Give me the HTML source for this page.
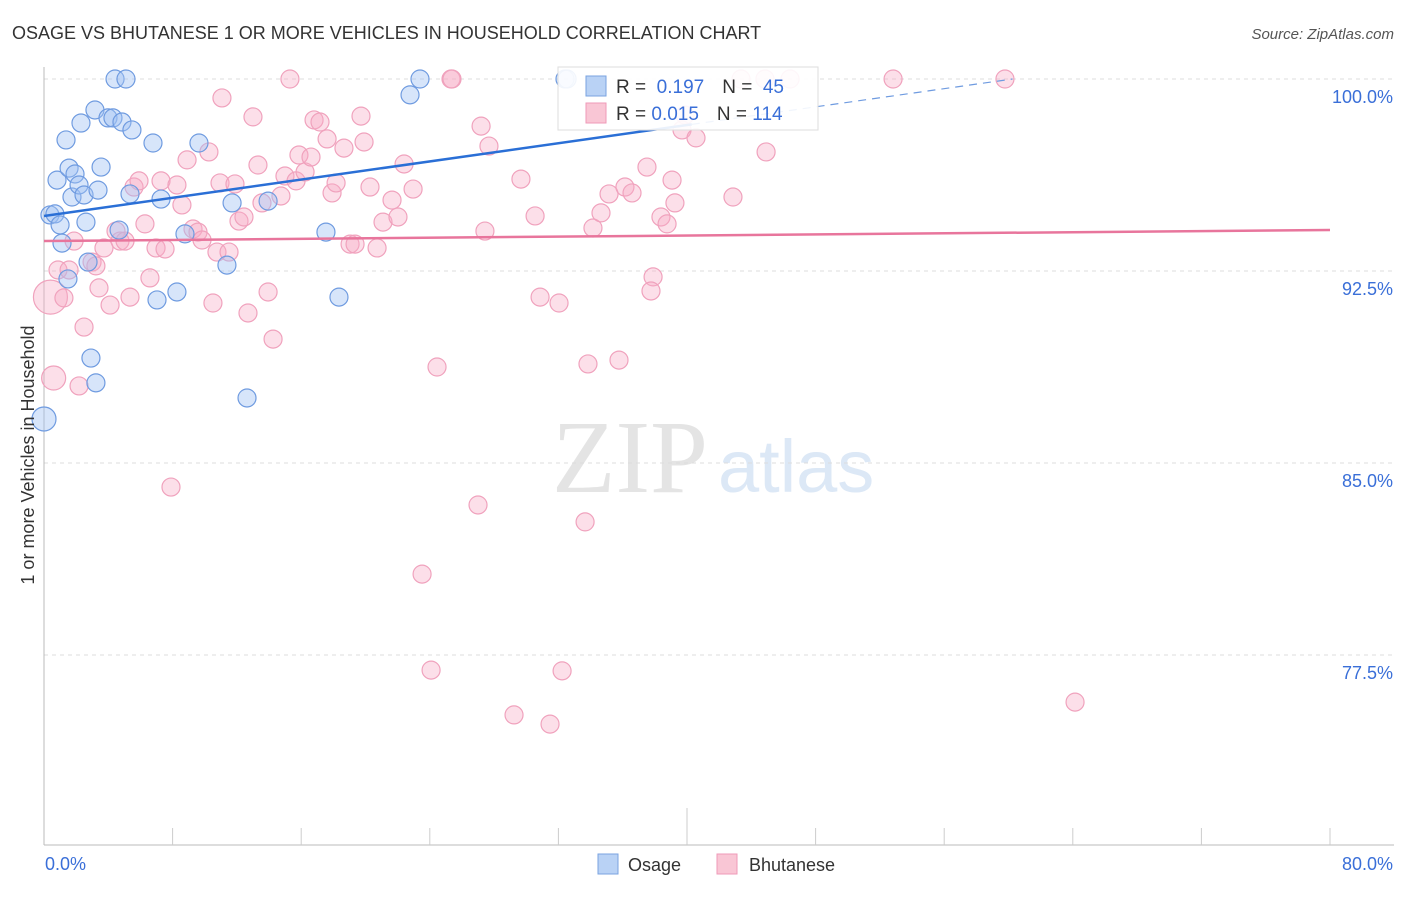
<!DOCTYPE html>
<html><head><meta charset="utf-8"><style>
body{margin:0;background:#fff;font-family:"Liberation Sans",sans-serif;}
svg text{font-family:"Liberation Sans",sans-serif;}
</style></head><body>
<svg id="chart" width="1406" height="892" xmlns="http://www.w3.org/2000/svg">
<text x="12" y="39" font-size="18" fill="#333">OSAGE VS BHUTANESE 1 OR MORE VEHICLES IN HOUSEHOLD CORRELATION CHART</text>
<text x="1394" y="39" font-size="15" fill="#555" text-anchor="end" font-style="italic">Source: ZipAtlas.com</text>
<text x="552" y="492" font-size="104" fill="#e4e4e4" font-family="Liberation Serif, serif" style="font-family:'Liberation Serif',serif">ZIP</text>
<text x="718" y="492" font-size="74" fill="#dce8f6">atlas</text>
<g id="grid"></g>
<g id="axes"></g>
<g id="pts-pink"></g>
<g id="pts-blue"></g>
<g id="lines"></g>
<text transform="translate(34,455) rotate(-90)" font-size="18" fill="#333" text-anchor="middle">1 or more Vehicles in Household</text>
<g>
<rect x="558" y="67" width="260" height="63" fill="#fff" fill-opacity="0.9" stroke="#ddd"/>
<rect x="586" y="76" width="20" height="20" fill="#b9d2f5" stroke="#7aa3e0"/>
<rect x="586" y="103" width="20" height="20" fill="#f9c6d5" stroke="#ef9ab8"/>
<text x="616" y="93" font-size="19" fill="#333">R = <tspan fill="#3a6fd8">&#160;0.197</tspan><tspan dx="18">N = </tspan><tspan fill="#3a6fd8">&#160;45</tspan></text>
<text x="616" y="120" font-size="19" fill="#333">R = <tspan fill="#3a6fd8">0.015</tspan><tspan dx="18">N = </tspan><tspan fill="#3a6fd8">114</tspan></text>
</g>
<g>
<rect x="598" y="854" width="20" height="20" fill="#b9d2f5" stroke="#7aa3e0"/>
<text x="628" y="871" font-size="18" fill="#333">Osage</text>
<rect x="717" y="854" width="20" height="20" fill="#f9c6d5" stroke="#ef9ab8"/>
<text x="749" y="871" font-size="18" fill="#333">Bhutanese</text>
</g>
</svg>
<script>
const yTicks=[100,92.5,85,77.5];
const yTickLabels=["100.0%","92.5%","85.0%","77.5%"];
const xTickLabels=["0.0%","80.0%"];
const blueX=[0,0.37,0.68,0.81,1.0,1.12,1.37,1.49,1.56,1.93,1.74,2.18,2.30,2.49,2.61,2.74,2.92,3.17,3.23,3.36,3.55,3.98,4.29,4.42,4.85,5.10,5.47,4.67,5.35,6.78,7.03,7.28,8.27,8.77,9.64,11.38,11.70,12.63,13.94,17.54,18.35,22.77,23.39,32.41,32.54];
const blueY=[86.72,94.69,94.73,96.05,94.30,93.59,97.62,92.19,96.52,96.29,95.39,95.86,98.28,95.47,94.41,92.85,89.10,98.79,88.13,95.66,96.56,98.48,98.48,100,98.32,100,98.01,94.10,95.51,97.50,91.37,95.31,91.68,93.95,97.50,92.73,95.16,87.54,95.23,94.02,91.48,99.38,100,100,100];
const pinkX=[0.4,0.6,0.87,1.24,1.56,1.87,2.18,2.49,2.99,3.23,3.42,3.73,4.11,4.48,4.73,5.04,5.35,5.60,5.91,6.28,6.59,6.97,7.28,7.53,7.90,8.27,8.58,8.90,9.27,9.58,9.83,10.26,10.51,10.76,10.95,11.07,11.51,11.88,12.13,12.44,12.69,13.0,13.31,13.56,13.94,14.25,14.74,14.99,15.30,15.68,15.86,16.24,16.61,16.80,17.17,17.61,17.92,18.17,18.66,19.04,19.35,19.72,19.91,20.28,20.72,21.09,21.65,22.02,22.40,22.96,23.52,24.08,24.45,25.32,25.38,27.0,27.19,27.68,27.43,29.24,29.67,30.55,30.86,31.48,32.04,32.23,33.66,33.84,34.15,34.65,35.15,35.77,36.14,36.58,37.51,37.89,37.76,38.38,38.76,39.07,39.25,39.69,39.88,40.56,42.86,43.36,44.85,44.92,46.41,52.82,59.78,64.14];
const pinkY=[91.48,88.32,92.54,91.45,92.54,93.67,88.01,90.31,92.85,92.70,91.84,93.40,91.17,94.06,93.67,93.67,91.48,95.78,96.02,94.34,92.23,93.40,96.02,93.36,84.06,95.86,95.08,96.84,94.14,94.02,93.71,97.15,91.25,93.24,95.94,99.26,93.24,95.90,94.45,94.61,90.86,98.52,96.64,95.16,91.68,89.84,95.43,96.21,100,96.02,97.03,96.37,96.95,98.40,98.32,97.66,95.55,95.94,97.30,93.55,93.55,98.55,97.54,95.78,93.40,94.41,95.27,94.61,96.68,95.70,80.66,76.91,88.75,100,100,83.36,98.16,97.38,94.06,75.16,96.09,94.65,91.48,74.80,91.25,76.88,82.70,88.87,94.18,94.77,95.51,89.02,95.78,95.55,96.56,92.27,91.72,94.61,94.34,96.05,95.16,98.01,98.59,97.70,95.39,100,100,97.15,100,100,100,75.66];
const blueTrend=[94.65,0.0888];
const pinkTrend=[93.67,0.0054];
const NS="http://www.w3.org/2000/svg";
const X=v=>44+v*(1286/80);
const Y=v=>79+(100-v)*(192/7.5);
function mk(tag,attrs,parent){const e=document.createElementNS(NS,tag);for(const k in attrs)e.setAttribute(k,attrs[k]);parent.appendChild(e);return e;}
const grid=document.getElementById('grid'),axes=document.getElementById('axes');
yTicks.forEach((t,i)=>{
  const l=mk('line',{x1:44,x2:1394,y1:Y(t),y2:Y(t),stroke:'#ddd','stroke-dasharray':'4,4'},grid);
  
  
  const tx=mk('text',{x:1393,y:Y(t)+24,'font-size':18,fill:'#3a6fd8','text-anchor':'end'},axes);
  tx.textContent=yTickLabels[i];
  
  
});
const ya=mk('line',{x1:44,x2:44,y1:67,y2:845,stroke:'#bbb'},axes);


const xa=mk('line',{x1:44,x2:1394,y1:845,y2:845,stroke:'#bbb'},axes);


for(let v=8;v<=80;v+=8){
  const tk=mk('line',{x1:X(v),x2:X(v),y1:v==40?808:828,y2:845,stroke:'#ccc'},axes);
  
  
}
[[0,'start',45],[80,'end',1393]].forEach((d,i)=>{
  const tx=mk('text',{x:d[2],y:870,'font-size':18,fill:'#3a6fd8','text-anchor':d[1]},axes);
  tx.textContent=xTickLabels[i];
  
  
});
const gp=document.getElementById('pts-pink'),gb=document.getElementById('pts-blue');
pinkX.forEach((x,i)=>{
  const r=i==0?17:(i==1?12:9);
  const c=mk('circle',{cx:X(x),cy:Y(pinkY[i]),r:r,fill:'rgba(246,170,196,0.38)',stroke:'#f0a2bd','stroke-width':1.2},gp);
  
  
});
blueX.forEach((x,i)=>{
  const r=i==0?12:9;
  const c=mk('circle',{cx:X(x),cy:Y(blueY[i]),r:r,fill:'rgba(160,192,242,0.42)',stroke:'#6f9be0','stroke-width':1.2},gb);
  
  
});
const gl=document.getElementById('lines');
const bEnd=40.3, bTop=(100-blueTrend[0])/blueTrend[1];
const bl=mk('line',{x1:X(0),y1:Y(blueTrend[0]),x2:X(bEnd),y2:Y(blueTrend[0]+blueTrend[1]*bEnd),stroke:'#2a6fd6','stroke-width':2.5},gl);


const bd=mk('line',{x1:X(bEnd),y1:Y(blueTrend[0]+blueTrend[1]*bEnd),x2:X(bTop),y2:Y(100),stroke:'#6f9be0','stroke-width':1.2,'stroke-dasharray':'8,6'},gl);


const pl=mk('line',{x1:X(0),y1:Y(pinkTrend[0]),x2:X(80),y2:Y(pinkTrend[0]+pinkTrend[1]*80),stroke:'#e8759c','stroke-width':2.5},gl);


</script>
</body></html>
